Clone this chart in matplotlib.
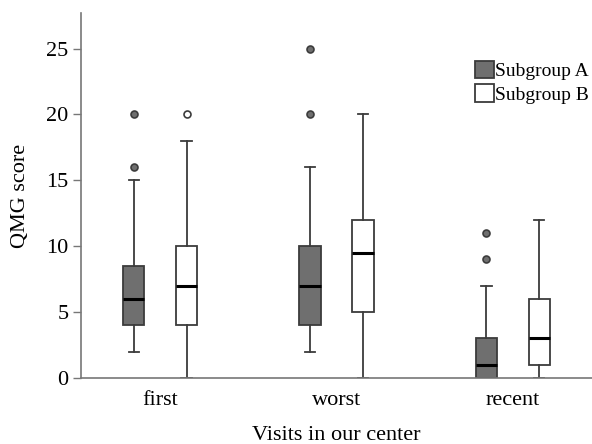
import matplotlib
matplotlib.use("Agg")
import matplotlib.pyplot as plt
from matplotlib.patches import Patch

categories = ["first", "worst", "recent"]
groups = ["Subgroup A", "Subgroup B"]

# five-number summaries per category: (whislo, q1, med, q3, whishi)
a_whislo = [2, 2, 0]
a_q1 = [4, 4, 0]
a_med = [6, 7, 1]
a_q3 = [8.5, 10, 3]
a_whishi = [15, 16, 7]
a_fliers = [[16, 20], [20, 25], [9, 11]]

b_whislo = [0, 0, 0]
b_q1 = [4, 5, 1]
b_med = [7, 9.5, 3]
b_q3 = [10, 12, 6]
b_whishi = [18, 20, 12]
b_fliers = [[20], [], []]

yticks = [0, 5, 10, 15, 20, 25]

plt.rcParams['font.family'] = ['Liberation Serif', 'DejaVu Serif']

fig = plt.figure(figsize=(5.92, 4.44), dpi=100)
ax = fig.add_axes([81/592, 66/444, 1 - 81/592, (378 - 13)/444])

edge = '#3c3c3c'
fill_a = '#6f6f6f'
fill_b = '#ffffff'
offset = 0.15
width = 0.12


def stats(wl, q1, med, q3, wh, fl):
    return [dict(whislo=wl[i], q1=q1[i], med=med[i], q3=q3[i], whishi=wh[i],
                 fliers=fl[i]) for i in range(len(wl))]


for st, fillc, sign in [
        (stats(a_whislo, a_q1, a_med, a_q3, a_whishi, a_fliers), fill_a, -1),
        (stats(b_whislo, b_q1, b_med, b_q3, b_whishi, b_fliers), fill_b, 1)]:
    pos = [i + sign * offset for i in range(len(categories))]
    ax.bxp(st, positions=pos, widths=width, patch_artist=True,
           showfliers=True, manage_ticks=False,
           boxprops=dict(facecolor=fillc, edgecolor=edge, linewidth=1.3),
           medianprops=dict(color='black', linewidth=2.2),
           whiskerprops=dict(color=edge, linewidth=1.3),
           capprops=dict(color=edge, linewidth=1.3),
           capwidths=width * 0.5,
           flierprops=dict(marker='o', markersize=5,
                           markerfacecolor=fillc,
                           markeredgecolor=edge, markeredgewidth=1.2))

ax.set_xlim(-0.45, 2.45)
ax.set_ylim(0, 27.7)
ax.set_xticks(range(len(categories)))
ax.set_xticklabels(categories, fontsize=16)
ax.set_yticks(yticks)
ax.set_yticklabels([str(t) for t in yticks], fontsize=16)
ax.tick_params(axis='x', length=0, pad=9)
ax.tick_params(axis='y', length=6, width=1, color='#777777', pad=3)
for s in ['top', 'right']:
    ax.spines[s].set_visible(False)
for s in ['left', 'bottom']:
    ax.spines[s].set_color('#777777')
    ax.spines[s].set_linewidth(1.2)

ax.set_ylabel("QMG score", fontsize=16, labelpad=12)
ax.set_xlabel("Visits in our center", fontsize=16, labelpad=12)

handles = [Patch(facecolor=fill_a, edgecolor=edge, linewidth=1.3),
           Patch(facecolor=fill_b, edgecolor=edge, linewidth=1.3)]
fig.legend(handles, groups, loc='upper left',
           bbox_to_anchor=(475/592, 1 - 61/444), bbox_transform=fig.transFigure,
           frameon=False, fontsize=14, borderpad=0, borderaxespad=0,
           handlelength=1.0, handleheight=1.0, handletextpad=0.05,
           labelspacing=0.2)

fig.savefig("out.png", dpi=100)
